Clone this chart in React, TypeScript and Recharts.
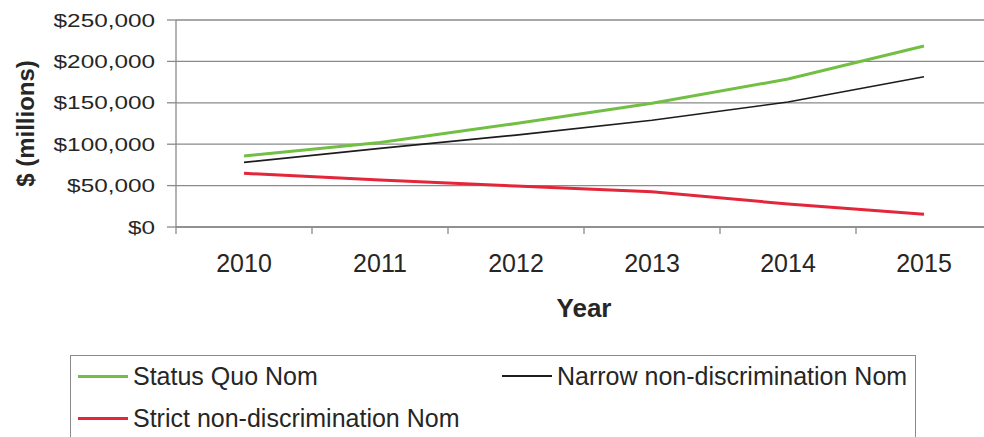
import React from "react";
import {
  LineChart,
  Line,
  XAxis,
  YAxis,
  CartesianGrid,
  Label,
} from "recharts";

const years = ["2010", "2011", "2012", "2013", "2014", "2015"];
const statusQuo = [85700, 102000, 125000, 149500, 178700, 218600];
const narrow = [78000, 95000, 111000, 129000, 151000, 181500];
const strict = [64800, 56700, 49500, 42600, 27800, 15300];
const yTicks = [0, 50000, 100000, 150000, 200000, 250000];

const SERIES = [
  { key: "statusQuo", name: "Status Quo Nom", color: "#72bf44", width: 3 },
  { key: "narrow", name: "Narrow non-discrimination Nom", color: "#1c1c1c", width: 1.6 },
  { key: "strict", name: "Strict non-discrimination Nom", color: "#e3263a", width: 3 },
];

const FONT = "'Liberation Sans', Arial, sans-serif";
const TEXT = "#262626";
const GRID = "#8a8a8a";
const X_TICK_MARGIN = 27;

const data = years.map((year, i) => ({
  year,
  statusQuo: statusQuo[i],
  narrow: narrow[i],
  strict: strict[i],
}));

const fmt = (v: number) => "$" + v.toLocaleString("en-US");

// y tick labels in the picture are noticeably wider than plain Arial
const YTick = ({ x, y, payload }: any) => (
  <text
    transform={`translate(${x},${y}) scale(1.28,1)`}
    textAnchor="end"
    dominantBaseline="central"
    fontFamily={FONT}
    fontSize={19}
    fill={TEXT}
  >
    {fmt(payload.value)}
  </text>
);

// Excel style: tick marks sit between categories, labels at the centre
const XTick = ({ x, y, payload, index, width, visibleTicksCount }: any) => {
  const half = width / (2 * visibleTicksCount);
  const axisY = y - X_TICK_MARGIN;
  return (
    <g>
      <line x1={x - half} x2={x - half} y1={axisY} y2={axisY + 7} stroke={GRID} strokeWidth={1.3} />
      {index === visibleTicksCount - 1 && (
        <line x1={x + half} x2={x + half} y1={axisY} y2={axisY + 7} stroke={GRID} strokeWidth={1.3} />
      )}
      <text x={x} y={y} dy="0.71em" textAnchor="middle" fontFamily={FONT} fontSize={25} fill={TEXT}>
        {payload.value}
      </text>
    </g>
  );
};

const App = () => {
  return (
    <div
      style={{
        position: "fixed",
        left: 0,
        top: 0,
        width: 984,
        height: 437,
        overflow: "hidden",
        background: "#fff",
      }}
    >
      <LineChart
        width={1000}
        height={437}
        data={data}
        margin={{ top: 20, right: 8, bottom: 120, left: 0 }}
      >
        <CartesianGrid vertical={false} stroke={GRID} strokeWidth={1.3} />
        <XAxis
          dataKey="year"
          scale="band"
          height={90}
          tickLine={false}
          tickSize={0}
          tickMargin={X_TICK_MARGIN}
          axisLine={{ stroke: GRID, strokeWidth: 1.3 }}
          tick={<XTick />}
          interval={0}
        >
          <Label
            content={({ viewBox }: any) => (
              <text
                x={viewBox.x + viewBox.width / 2}
                y={viewBox.y + 81}
                textAnchor="middle"
                dominantBaseline="central"
                fontFamily={FONT}
                fontWeight="bold"
                fontSize={26}
                fill={TEXT}
              >
                Year
              </text>
            )}
          />
        </XAxis>
        <YAxis
          width={176}
          domain={[0, 250000]}
          ticks={yTicks}
          interval={0}
          tickSize={9}
          tickMargin={12}
          tickLine={{ stroke: GRID, strokeWidth: 1.3 }}
          axisLine={{ stroke: GRID, strokeWidth: 1.3 }}
          tick={<YTick />}
        >
          <Label
            content={({ viewBox }: any) => (
              <text
                transform={`translate(25,${viewBox.y + viewBox.height / 2}) rotate(-90)`}
                textAnchor="middle"
                dominantBaseline="central"
                fontFamily={FONT}
                fontWeight="bold"
                fontSize={24}
                fill={TEXT}
              >
                $ (millions)
              </text>
            )}
          />
        </YAxis>
        {SERIES.map((s) => (
          <Line
            key={s.key}
            dataKey={s.key}
            name={s.name}
            type="linear"
            stroke={s.color}
            strokeWidth={s.width}
            dot={false}
            activeDot={false}
            isAnimationActive={false}
          />
        ))}
      </LineChart>
      <div
        style={{
          position: "absolute",
          left: 70,
          top: 355,
          width: 846,
          height: 110,
          border: `1.5px solid ${GRID}`,
          boxSizing: "border-box",
          display: "grid",
          gridTemplateColumns: "424px auto",
          gridAutoRows: 42,
          marginTop: 0,
          paddingLeft: 7,
          fontFamily: FONT,
          fontSize: 25,
          color: TEXT,
        }}
      >
        {SERIES.map((s) => (
          <div key={s.key} style={{ display: "flex", alignItems: "center", whiteSpace: "nowrap", marginTop: -2 }}>
            <span
              style={{
                display: "inline-block",
                width: 50,
                height: s.width,
                background: s.color,
                marginRight: 5,
              }}
            />
            {s.name}
          </div>
        ))}
      </div>
    </div>
  );
};

export default App;
